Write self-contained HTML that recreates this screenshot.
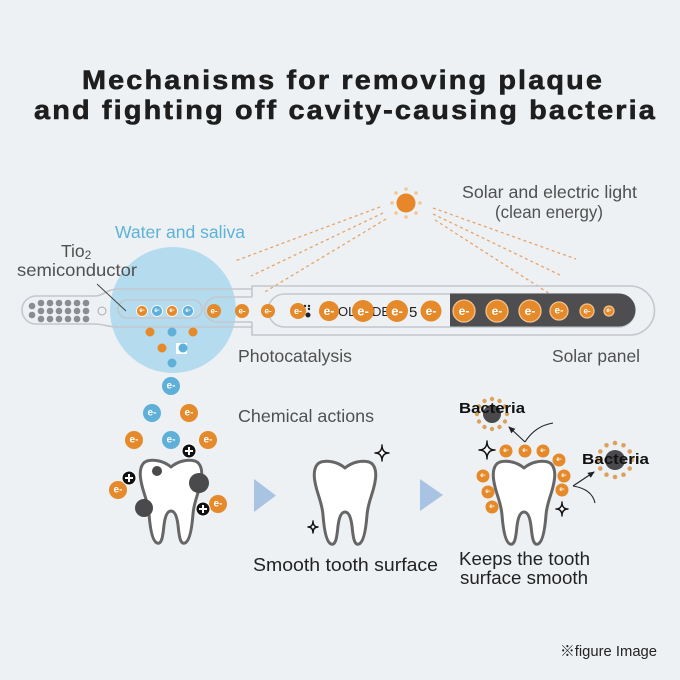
<!DOCTYPE html>
<html><head><meta charset="utf-8"><style>
html,body{margin:0;padding:0;background:#eef1f4;}
svg{display:block;}
text{font-family:"Liberation Sans","Noto Sans CJK JP",sans-serif;}
.lbl{fill:#505050;font-size:17.5px;}
.dk{fill:#222;font-size:18px;}
.e{fill:#fff;font-weight:bold;text-anchor:middle;dominant-baseline:central;}
.ol{fill:none;stroke:#c3c8cd;stroke-width:1.6;}
.dash{stroke:#e6a46a;stroke-width:1.3;stroke-dasharray:3 3;fill:none;}
.tooth{fill:#fff;stroke:#666;stroke-width:3;stroke-linejoin:round;}
.sp{fill:#fff;stroke:#111;stroke-width:1.4;stroke-linejoin:round;}
.ttl{font-size:27px;font-weight:bold;fill:#1e1e1e;stroke:#1e1e1e;stroke-width:0.6;letter-spacing:2px;}
</style></head><body>
<svg width="680" height="680" viewBox="0 0 680 680" xmlns="http://www.w3.org/2000/svg">
<defs>
<path id="tooth" d="M31 8 C24 2,14 0,7 2 C1 4,-1 12,1 22 C3 34,8 42,9 55 C10 68,12 82,17 84 C22 86,23 76,24 66 C25 58,27 52,31 52 C35 52,37 58,38 66 C39 76,40 86,45 84 C50 82,52 68,53 55 C54 42,59 34,61 22 C63 12,61 4,55 2 C48 0,38 2,31 8 Z"/>
<marker id="ah" markerWidth="8" markerHeight="8" refX="6" refY="4" orient="auto" markerUnits="userSpaceOnUse"><path d="M0,1 L7,4 L0,7 Z" fill="#222"/></marker>
</defs>
<rect width="680" height="680" fill="#eef1f4"/>

<!-- Title -->
<text class="ttl" x="82" y="89" textLength="522" lengthAdjust="spacingAndGlyphs">Mechanisms for removing plaque</text>
<text class="ttl" x="34" y="119" textLength="623" lengthAdjust="spacingAndGlyphs">and fighting off cavity-causing bacteria</text>

<!-- Sun -->
<g>
<circle cx="406" cy="203" r="9.5" fill="#e8862a"/>
<g fill="#f2c793">
<circle cx="406" cy="189" r="1.8"/><circle cx="406" cy="217" r="1.8"/>
<circle cx="392" cy="203" r="1.8"/><circle cx="420" cy="203" r="1.8"/>
<circle cx="396" cy="193" r="1.8"/><circle cx="416" cy="193" r="1.8"/>
<circle cx="396" cy="213" r="1.8"/><circle cx="416" cy="213" r="1.8"/>
</g>
</g>
<!-- dashed rays -->
<line class="dash" x1="380" y1="207" x2="235" y2="261"/>
<line class="dash" x1="383" y1="213" x2="251" y2="276"/>
<line class="dash" x1="386" y1="219" x2="263" y2="293"/>
<line class="dash" x1="433" y1="208" x2="576" y2="259"/>
<line class="dash" x1="433" y1="214" x2="562" y2="276"/>
<line class="dash" x1="435" y1="220" x2="550" y2="294"/>

<text class="lbl" x="462" y="198" textLength="175" lengthAdjust="spacingAndGlyphs">Solar and electric light</text>
<text class="lbl" x="495" y="218" textLength="108" lengthAdjust="spacingAndGlyphs">(clean energy)</text>

<!-- Water circle -->
<circle cx="173" cy="310" r="63" fill="#b5dbee"/>

<!-- Toothbrush outline -->
<path class="ol" d="M36 296 H94 C104 296,107 289,118 289 H252 V286 H630 A24.5 24.5 0 0 1 630 335 H252 V327 H118 C107 327,104 324,94 324 H36 A14 14 0 0 1 36 296 Z"/>
<rect class="ol" x="118" y="300" width="84" height="18" rx="9"/>
<path class="ol" d="M252 297 H217 A11 11 0 0 0 217 322 H252"/>
<line class="ol" x1="252" y1="289" x2="252" y2="297"/>
<line class="ol" x1="252" y1="322" x2="252" y2="327"/>
<rect class="ol" x="268" y="294" width="367" height="33" rx="16.5"/>
<path d="M450 293.5 H619 A16.5 16.5 0 0 1 619 326.5 H450 Z" fill="#4e4e50"/>

<!-- bristles -->
<g fill="#8a8d91">
<circle cx="32" cy="306" r="3.3"/><circle cx="32" cy="315" r="3.3"/>
<circle cx="41" cy="303" r="3.3"/><circle cx="50" cy="303" r="3.3"/><circle cx="59" cy="303" r="3.3"/><circle cx="68" cy="303" r="3.3"/><circle cx="77" cy="303" r="3.3"/><circle cx="86" cy="303" r="3.3"/>
<circle cx="41" cy="311" r="3.3"/><circle cx="50" cy="311" r="3.3"/><circle cx="59" cy="311" r="3.3"/><circle cx="68" cy="311" r="3.3"/><circle cx="77" cy="311" r="3.3"/><circle cx="86" cy="311" r="3.3"/>
<circle cx="41" cy="319" r="3.3"/><circle cx="50" cy="319" r="3.3"/><circle cx="59" cy="319" r="3.3"/><circle cx="68" cy="319" r="3.3"/><circle cx="77" cy="319" r="3.3"/><circle cx="86" cy="319" r="3.3"/>
</g>
<circle cx="102" cy="311" r="4" fill="none" stroke="#aaa" stroke-width="1"/>

<!-- logo pieces -->
<g fill="#222">
<circle cx="305" cy="306" r="1.2"/><circle cx="309" cy="306" r="1.2"/><circle cx="305" cy="311" r="1.2"/><circle cx="309" cy="309" r="1.2"/>
<circle cx="308" cy="315" r="2.5"/>
</g>
<text x="338" y="316" font-size="13" fill="#222">OL</text>
<text x="372" y="316" font-size="13" fill="#222">DE</text>
<text x="409" y="317" font-size="15" fill="#222">5</text>

<!-- slot electrons -->
<g stroke="#fff" stroke-width="0.8">
<circle cx="142" cy="311" r="5.5" fill="#e58a2b"/>
<circle cx="157" cy="311" r="5.5" fill="#5fb0d9"/>
<circle cx="172" cy="311" r="5.5" fill="#e58a2b"/>
<circle cx="188" cy="311" r="5.5" fill="#5fb0d9"/>
</g>
<text class="e" x="142" y="311" font-size="6">e-</text><text class="e" x="157" y="311" font-size="6">e-</text>
<text class="e" x="172" y="311" font-size="6">e-</text><text class="e" x="188" y="311" font-size="6">e-</text>

<!-- handle electrons -->
<g fill="#e58a2b">
<circle cx="214" cy="311" r="7"/><circle cx="242" cy="311" r="7"/><circle cx="268" cy="311" r="7"/>
<circle cx="298" cy="311" r="8"/><circle cx="329" cy="311" r="10"/><circle cx="363" cy="311" r="11"/>
<circle cx="397" cy="311" r="11"/><circle cx="431" cy="311" r="10.5"/>
</g>
<g fill="#e58a2b" stroke="#f3c28c" stroke-width="1.3">
<circle cx="464" cy="311" r="11"/><circle cx="497" cy="311" r="11"/><circle cx="530" cy="311" r="11"/>
<circle cx="559" cy="311" r="9"/><circle cx="587" cy="311" r="7"/><circle cx="609" cy="311" r="5"/>
</g>
<text class="e" x="214" y="311" font-size="8">e-</text><text class="e" x="242" y="311" font-size="8">e-</text>
<text class="e" x="268" y="311" font-size="8">e-</text><text class="e" x="298" y="311" font-size="9">e-</text>
<text class="e" x="329" y="311" font-size="12">e-</text><text class="e" x="363" y="311" font-size="13">e-</text>
<text class="e" x="397" y="311" font-size="13">e-</text><text class="e" x="431" y="311" font-size="12">e-</text>
<text class="e" x="464" y="311" font-size="12">e-</text><text class="e" x="497" y="311" font-size="12">e-</text>
<text class="e" x="530" y="311" font-size="12">e-</text><text class="e" x="559" y="311" font-size="10">e-</text>
<text class="e" x="587" y="311" font-size="8">e-</text><text class="e" x="609" y="311" font-size="6">e-</text>

<!-- dots in water -->
<circle cx="150" cy="332" r="4.5" fill="#e58a2b"/>
<circle cx="172" cy="332" r="4.5" fill="#5fb0d9"/>
<circle cx="193" cy="332" r="4.5" fill="#e58a2b"/>
<circle cx="162" cy="348" r="4.5" fill="#e58a2b"/>
<rect x="176" y="343" width="11" height="11" fill="#fff"/>
<circle cx="183" cy="348" r="4.5" fill="#5fb0d9"/>
<circle cx="172" cy="363" r="4.5" fill="#5fb0d9"/>

<!-- labels -->
<text x="115" y="238" font-size="17.5" fill="#5bb3d8" textLength="130" lengthAdjust="spacingAndGlyphs">Water and saliva</text>
<text class="lbl" x="61" y="257">Tio<tspan font-size="12" dy="2">2</tspan></text>
<text class="lbl" x="17" y="276" textLength="120" lengthAdjust="spacingAndGlyphs">semiconductor</text>
<line x1="97" y1="284" x2="126" y2="311" stroke="#444" stroke-width="1"/>
<text class="lbl" x="238" y="362" textLength="114" lengthAdjust="spacingAndGlyphs">Photocatalysis</text>
<text class="lbl" x="552" y="362" textLength="88" lengthAdjust="spacingAndGlyphs">Solar panel</text>
<text class="lbl" x="238" y="422" textLength="136" lengthAdjust="spacingAndGlyphs">Chemical actions</text>

<!-- chemical electrons -->
<g>
<circle cx="171" cy="386" r="9" fill="#5fb0d9"/><text class="e" x="171" y="386" font-size="10">e-</text>
<circle cx="152" cy="413" r="9" fill="#5fb0d9"/><text class="e" x="152" y="413" font-size="10">e-</text>
<circle cx="189" cy="413" r="9" fill="#e58a2b"/><text class="e" x="189" y="413" font-size="10">e-</text>
<circle cx="134" cy="440" r="9" fill="#e58a2b"/><text class="e" x="134" y="440" font-size="10">e-</text>
<circle cx="171" cy="440" r="9" fill="#5fb0d9"/><text class="e" x="171" y="440" font-size="10">e-</text>
<circle cx="208" cy="440" r="9" fill="#e58a2b"/><text class="e" x="208" y="440" font-size="10">e-</text>
</g>

<!-- Tooth 1 -->
<use href="#tooth" class="tooth" x="140" y="459"/>
<circle cx="157" cy="471" r="5" fill="#4a4a4c"/>
<circle cx="199" cy="483" r="10" fill="#4a4a4c"/>
<circle cx="144" cy="508" r="9" fill="#4a4a4c"/>
<circle cx="118" cy="490" r="9" fill="#e58a2b"/><text class="e" x="118" y="490" font-size="10">e-</text>
<circle cx="218" cy="504" r="9" fill="#e58a2b"/><text class="e" x="218" y="504" font-size="10">e-</text>
<g>
<circle cx="189" cy="451" r="7" fill="#111" stroke="#fff" stroke-width="1"/>
<path d="M185 451 H193 M189 447 V455" stroke="#fff" stroke-width="2"/>
<circle cx="129" cy="478" r="7" fill="#111" stroke="#fff" stroke-width="1"/>
<path d="M125 478 H133 M129 474 V482" stroke="#fff" stroke-width="2"/>
<circle cx="203" cy="509" r="7" fill="#111" stroke="#fff" stroke-width="1"/>
<path d="M199 509 H207 M203 505 V513" stroke="#fff" stroke-width="2"/>
</g>

<!-- arrows -->
<path d="M254 479 L276 495.5 L254 512 Z" fill="#a9c3e3"/>
<path d="M420 479 L443 495 L420 511 Z" fill="#a9c3e3"/>

<!-- Tooth 2 -->
<use href="#tooth" class="tooth" x="314" y="460"/>
<path class="sp" d="M382 445 Q382 453 389 453 Q382 453 382 461 Q382 453 375 453 Q382 453 382 445 Z"/>
<path class="sp" d="M313 521 Q313 527 318 527 Q313 527 313 533 Q313 527 308 527 Q313 527 313 521 Z"/>
<text class="dk" x="253" y="571" textLength="185" lengthAdjust="spacingAndGlyphs">Smooth tooth surface</text>

<!-- Tooth 3 -->
<use href="#tooth" class="tooth" x="493" y="460"/>
<g fill="#e58a2b">
<circle cx="506" cy="451" r="6.5"/><circle cx="525" cy="451" r="6.5"/><circle cx="543" cy="451" r="6.5"/>
<circle cx="559" cy="460" r="6.5"/><circle cx="564" cy="476" r="6.5"/><circle cx="562" cy="490" r="6.5"/>
<circle cx="483" cy="476" r="6.5"/><circle cx="488" cy="492" r="6.5"/><circle cx="492" cy="507" r="6.5"/>
</g>
<g>
<text class="e" x="506" y="451" font-size="6">e-</text><text class="e" x="525" y="451" font-size="6">e-</text>
<text class="e" x="543" y="451" font-size="6">e-</text><text class="e" x="559" y="460" font-size="6">e-</text>
<text class="e" x="564" y="476" font-size="6">e-</text><text class="e" x="562" y="490" font-size="6">e-</text>
<text class="e" x="483" y="476" font-size="6">e-</text><text class="e" x="488" y="492" font-size="6">e-</text>
<text class="e" x="492" y="507" font-size="6">e-</text>
</g>
<path class="sp" d="M487 441 Q487 450 495 450 Q487 450 487 459 Q487 450 479 450 Q487 450 487 441 Z"/>
<path class="sp" d="M562 502 Q562 509 568 509 Q562 509 562 516 Q562 509 556 509 Q562 509 562 502 Z"/>

<!-- Bacteria 1 -->
<g>
<circle cx="492" cy="414" r="9" fill="#4a4a4c"/>
<g fill="#dba25e">
<circle cx="492" cy="399" r="2.2"/><circle cx="499.5" cy="401" r="2.2"/><circle cx="505" cy="406.5" r="2.2"/><circle cx="507" cy="414" r="2.2"/>
<circle cx="505" cy="421.5" r="2.2"/><circle cx="499.5" cy="427" r="2.2"/><circle cx="492" cy="429" r="2.2"/><circle cx="484.5" cy="427" r="2.2"/>
<circle cx="479" cy="421.5" r="2.2"/><circle cx="477" cy="414" r="2.2"/><circle cx="479" cy="406.5" r="2.2"/><circle cx="484.5" cy="401" r="2.2"/>
</g>
<text x="459" y="413" font-size="15" font-weight="bold" fill="#111" textLength="66" lengthAdjust="spacingAndGlyphs">Bacteria</text>
</g>
<!-- Bacteria 2 -->
<g>
<circle cx="615" cy="460" r="10" fill="#4a4a4c"/>
<g fill="#dba25e">
<circle cx="615" cy="443" r="2.3"/><circle cx="623.5" cy="445.3" r="2.3"/><circle cx="629.7" cy="451.5" r="2.3"/><circle cx="632" cy="460" r="2.3"/>
<circle cx="629.7" cy="468.5" r="2.3"/><circle cx="623.5" cy="474.7" r="2.3"/><circle cx="615" cy="477" r="2.3"/><circle cx="606.5" cy="474.7" r="2.3"/>
<circle cx="600.3" cy="468.5" r="2.3"/><circle cx="598" cy="460" r="2.3"/><circle cx="600.3" cy="451.5" r="2.3"/><circle cx="606.5" cy="445.3" r="2.3"/>
</g>
<text x="582" y="464" font-size="15" font-weight="bold" fill="#111" textLength="67" lengthAdjust="spacingAndGlyphs">Bacteria</text>
</g>

<!-- curved arrows -->
<path d="M553 423 Q535 426 525 442" fill="none" stroke="#222" stroke-width="1.1"/>
<line x1="525" y1="442" x2="509" y2="427" stroke="#222" stroke-width="1.1" marker-end="url(#ah)"/>
<path d="M595 503 Q592 489 573 486" fill="none" stroke="#222" stroke-width="1.1"/>
<line x1="573" y1="486" x2="594" y2="472" stroke="#222" stroke-width="1.1" marker-end="url(#ah)"/>

<text class="dk" x="459" y="565" textLength="131" lengthAdjust="spacingAndGlyphs">Keeps the tooth</text>
<text class="dk" x="460" y="584" textLength="128" lengthAdjust="spacingAndGlyphs">surface smooth</text>

<text x="560" y="656" font-size="15" fill="#222" textLength="97" lengthAdjust="spacingAndGlyphs">※figure Image</text>
</svg>
</body></html>
